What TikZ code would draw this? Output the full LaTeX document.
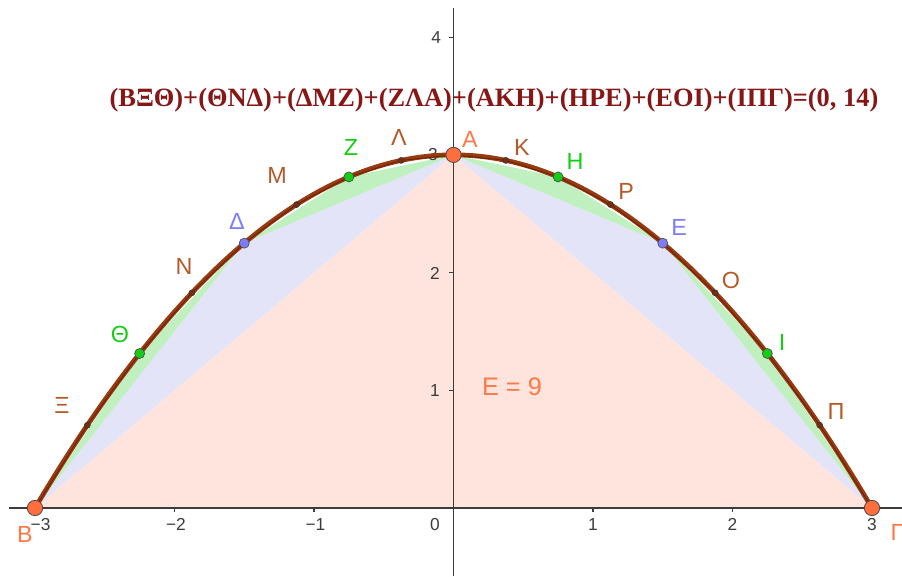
\documentclass[tikz,border=0pt]{standalone}
\usepackage{fontspec}
\setmainfont{Liberation Sans}
\newfontfamily\titlefont{Liberation Serif}
\definecolor{pinkf}{RGB}{255,228,222}
\definecolor{bluef}{RGB}{228,228,248}
\definecolor{greenf}{RGB}{192,240,192}
\definecolor{curvec}{RGB}{150,58,16}
\definecolor{edgec}{RGB}{110,30,5}
\definecolor{titlec}{RGB}{135,22,22}
\definecolor{orangec}{RGB}{255,110,60}
\definecolor{orangel}{RGB}{255,120,70}
\definecolor{bluec}{RGB}{125,125,250}
\definecolor{greenc}{RGB}{20,205,20}
\definecolor{brownl}{RGB}{180,90,40}
\definecolor{axisc}{RGB}{60,60,60}
\begin{document}
\begin{tikzpicture}[x=104.625pt,y=88.275pt,
  ptlab/.style={font=\fontsize{17.5}{17.5}\selectfont},
  ticklab/.style={font=\fontsize{13}{13}\selectfont, text=axisc},
  bigpt/.style={circle, fill=orangec, draw=black!70, line width=0.6pt, minimum size=11.5pt, inner sep=0pt},
  midpt/.style={circle, draw=black!70, line width=0.5pt, minimum size=7.5pt, inner sep=0pt},
  smallpt/.style={circle, fill=curvec!80!black, draw=black!80, line width=0.4pt, minimum size=4.5pt, inner sep=0pt},
  axisline/.style={axisc, line width=1.1pt},
  tickmark/.style={axisc, line width=0.8pt}]
\useasboundingbox (-3.251,-0.578) rectangle (3.215,4.316);
% points
\coordinate (pB) at (-3,0);
\coordinate (pXi) at (-2.625,0.703125);
\coordinate (pTh) at (-2.25,1.3125);
\coordinate (pN) at (-1.875,1.828125);
\coordinate (pD) at (-1.5,2.25);
\coordinate (pM) at (-1.125,2.578125);
\coordinate (pZ) at (-0.75,2.8125);
\coordinate (pL) at (-0.375,2.953125);
\coordinate (pA) at (0,3);
\coordinate (pK) at (0.375,2.953125);
\coordinate (pH) at (0.75,2.8125);
\coordinate (pP) at (1.125,2.578125);
\coordinate (pE) at (1.5,2.25);
\coordinate (pO) at (1.875,1.828125);
\coordinate (pI) at (2.25,1.3125);
\coordinate (pPi) at (2.625,0.703125);
\coordinate (pG) at (3,0);
% fills
\fill[pinkf] (pB) -- (pA) -- (pG) -- cycle;
\fill[bluef] (pB) -- (pD) -- (pA) -- cycle;
\fill[bluef] (pA) -- (pE) -- (pG) -- cycle;
\fill[greenf] (pB) -- (pTh) -- (pD) -- cycle;
\fill[greenf] (pD) -- (pZ) -- (pA) -- cycle;
\fill[greenf] (pA) -- (pH) -- (pE) -- cycle;
\fill[greenf] (pE) -- (pI) -- (pG) -- cycle;
% axes
\coordinate (xl) at (-3.19,0);
\coordinate (xr) at (3.215,0);
\coordinate (yb) at (0,-0.578);
\coordinate (yt) at (0,4.25);
\draw[axisline] (xl) -- (xr);
\draw[axisline] (yb) -- (yt);
\foreach \i in {-3,-2,-1,1,2,3} {
  \coordinate (xt\i) at (\i,0);
  \draw[tickmark] (xt\i) -- ++(0,-3pt);
}
\foreach \j in {1,2,3,4} {
  \coordinate (yt\j) at (0,\j);
  \draw[tickmark] (yt\j) -- ++(-3.5pt,0);
}
\node[ticklab] (tx-3) at (-2.96,-0.144) {−3};
\node[ticklab] (tx-2) at (-1.99,-0.144) {−2};
\node[ticklab] (tx-1) at (-0.99,-0.144) {−1};
\node[ticklab] (tx0) at (-0.133,-0.144) {0};
\node[ticklab] (tx1) at (1.0,-0.144) {1};
\node[ticklab] (tx2) at (2.0,-0.144) {2};
\node[ticklab] (tx3) at (3.0,-0.144) {3};
\node[ticklab] (ty1) at (-0.133,1.0) {1};
\node[ticklab] (ty2) at (-0.133,1.99) {2};
\node[ticklab] (ty3) at (-0.147,3.0) {3};
\node[ticklab] (ty4) at (-0.125,3.998) {4};
% curve
\draw[curvec, line width=3.6pt, line cap=round] plot[domain=-3:3, samples=121, smooth] (\x,{3-\x*\x/3});
% polygon
\draw[edgec, line width=0.6pt, line join=round] (pB) -- (pXi) -- (pTh) -- (pN) -- (pD) -- (pM) -- (pZ) -- (pL) -- (pA) -- (pK) -- (pH) -- (pP) -- (pE) -- (pO) -- (pI) -- (pPi) -- (pG);
% point markers
\foreach \p in {pXi,pN,pM,pL,pK,pP,pO,pPi} { \node[smallpt] (m\p) at (\p) {}; }
\foreach \p in {pTh,pZ,pH,pI} { \node[midpt, fill=greenc] (m\p) at (\p) {}; }
\foreach \p in {pD,pE} { \node[midpt, fill=bluec] (m\p) at (\p) {}; }
\foreach \p in {pB,pA,pG} { \node[bigpt] (m\p) at (\p) {}; }
% labels
\node[ptlab, text=orangel] (lA) at (0.118,3.127) {Α};
\node[ptlab, text=brownl] (lK) at (0.491,3.067) {Κ};
\node[ptlab, text=greenc] (lH) at (0.871,2.948) {Η};
\node[ptlab, text=brownl] (lP) at (1.237,2.693) {Ρ};
\node[ptlab, text=bluec] (lE) at (1.617,2.387) {Ε};
\node[ptlab, text=brownl] (lO) at (1.989,1.929) {Ο};
\node[ptlab, text=greenc] (lI) at (2.355,1.402) {Ι};
\node[ptlab, text=brownl] (lPi) at (2.742,0.816) {Π};
\node[ptlab, text=orangel] (lG) at (3.179,-0.212) {Γ};
\node[ptlab, text=orangel] (lB) at (-3.072,-0.229) {Β};
\node[ptlab, text=brownl] (lL) at (-0.391,3.144) {Λ};
\node[ptlab, text=greenc] (lZ) at (-0.735,3.059) {Ζ};
\node[ptlab, text=brownl] (lM) at (-1.265,2.821) {Μ};
\node[ptlab, text=bluec] (lD) at (-1.552,2.430) {Δ};
\node[ptlab, text=brownl] (lN) at (-1.932,2.056) {Ν};
\node[ptlab, text=greenc] (lTh) at (-2.391,1.478) {Θ};
\node[ptlab, text=brownl] (lXi) at (-2.806,0.875) {Ξ};
\node[ptlab, text=orangel, font=\fontsize{19}{19}\selectfont] (area) at (0.419,1.028) {Ε = 9};
% title
\node[text=titlec, font=\titlefont\bfseries\fontsize{19.8}{19.8}\selectfont] (title) at (0.290,3.466) {(ΒΞΘ)+(ΘΝΔ)+(ΔΜΖ)+(ΖΛΑ)+(ΑΚΗ)+(ΗΡΕ)+(ΕΟΙ)+(ΙΠΓ)=(0, 14)};
\end{tikzpicture}
\end{document}
